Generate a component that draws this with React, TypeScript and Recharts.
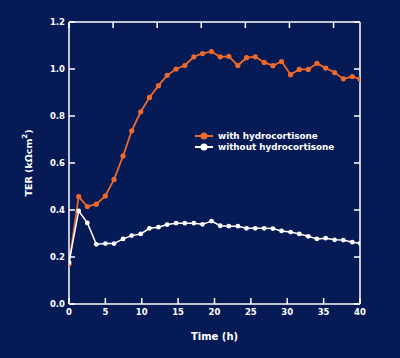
import React from 'react';
import { LineChart, Line, XAxis, YAxis, Legend } from 'recharts';

const times = [
  0, 1.33, 2.52, 3.76, 5.0, 6.19, 7.43, 8.62, 9.86, 11.06, 12.29, 13.49, 14.72, 15.92, 17.16,
  18.35, 19.59, 20.78, 21.97, 23.21, 24.4, 25.6, 26.83, 28.03, 29.22, 30.46, 31.65, 32.89,
  34.08, 35.28, 36.51, 37.71, 38.94, 40.0,
];

const withHydro = [
  0.17, 0.457, 0.415, 0.425, 0.46, 0.53, 0.63, 0.737, 0.818, 0.879, 0.929, 0.973, 1.0, 1.015,
  1.052, 1.066, 1.074, 1.052, 1.054, 1.015, 1.048, 1.052, 1.028, 1.014, 1.032, 0.976, 0.998,
  0.998, 1.024, 1.004, 0.985, 0.958, 0.968, 0.957,
];

const withoutHydro = [
  0.177, 0.396, 0.345, 0.254, 0.257, 0.257, 0.277, 0.291, 0.298, 0.322, 0.327, 0.338, 0.344,
  0.344, 0.344, 0.339, 0.353, 0.333, 0.331, 0.331, 0.322, 0.322, 0.322, 0.321, 0.311, 0.306,
  0.298, 0.288, 0.277, 0.28, 0.273, 0.272, 0.263, 0.258,
];

const xTicks = [0, 5, 10, 15, 20, 25, 30, 35, 40];
const yTicks = [0, 0.2, 0.4, 0.6, 0.8, 1.0, 1.2];

const BG = '#061a55';
const ORANGE = '#ee6a2c';
const WHITE = '#ffffff';
const FONT = '"DejaVu Sans", sans-serif';

const data = times.map((t, i) => ({ t, withH: withHydro[i], withoutH: withoutHydro[i] }));

const tickStyle = { fill: WHITE, fontSize: 8.5, fontWeight: 700, fontFamily: FONT };

function YLabel({ viewBox }: any) {
  const x = 29;
  const y = viewBox.y + viewBox.height / 2;
  return (
    <text
      x={x}
      y={y}
      transform={`rotate(-90, ${x}, ${y})`}
      textAnchor="middle"
      dominantBaseline="middle"
      fill={WHITE}
      fontSize={9.5}
      fontWeight={700}
      fontFamily={FONT}
    >
      TER (kΩcm<tspan dy={-4} fontSize={7}>2</tspan>
      <tspan dy={4}>)</tspan>
    </text>
  );
}

function LegendBox() {
  const items = [
    { label: 'with hydrocortisone', color: ORANGE, r: 3.5 },
    { label: 'without hydrocortisone', color: WHITE, r: 3.5 },
  ];
  return (
    <div style={{ fontFamily: FONT, fontWeight: 700, fontSize: 8.8, color: WHITE }}>
      {items.map((it) => (
        <div key={it.label} style={{ display: 'flex', alignItems: 'center', height: 11.5 }}>
          <svg width={18} height={10} style={{ marginRight: 5 }}>
            <line x1={0} y1={5} x2={18} y2={5} stroke={it.color} strokeWidth={2} />
            <circle cx={9} cy={5} r={it.r} fill={it.color} />
          </svg>
          <span style={{ whiteSpace: 'nowrap' }}>{it.label}</span>
        </div>
      ))}
    </div>
  );
}

export default function App() {
  return (
    <div style={{ position: 'absolute', left: 0, top: 0, width: 400, height: 358, background: BG }}>
      <LineChart
        width={400}
        height={358}
        data={data}
        margin={{ top: 21, right: 39, bottom: 18, left: 0 }}
      >
        <XAxis
          dataKey="t"
          type="number"
          domain={[0, 40]}
          ticks={xTicks}
          allowDataOverflow
          stroke={WHITE}
          axisLine={{ stroke: WHITE, strokeWidth: 1.5 }}
          tickLine={{ stroke: WHITE, strokeWidth: 1.5 }}
          tickSize={-6}
          tickMargin={11}
          tick={tickStyle}
          height={36}
          label={{
            value: 'Time (h)',
            position: 'insideBottom',
            offset: 0,
            fill: WHITE,
            fontSize: 10,
            fontWeight: 700,
            fontFamily: FONT,
          }}
        />
        <XAxis
          xAxisId="top"
          orientation="top"
          type="number"
          domain={[0, 40]}
          ticks={xTicks}
          allowDataOverflow
          axisLine={{ stroke: WHITE, strokeWidth: 1.5 }}
          tickLine={{ stroke: WHITE, strokeWidth: 1.5 }}
          tickSize={-6}
          tick={() => <g />}
          height={1}
        />
        <YAxis
          type="number"
          domain={[0, 1.2]}
          ticks={yTicks}
          allowDataOverflow
          axisLine={{ stroke: WHITE, strokeWidth: 1.5 }}
          tickLine={{ stroke: WHITE, strokeWidth: 1.5 }}
          tickSize={-6}
          tickMargin={10}
          tick={tickStyle}
          tickFormatter={(v: number) => v.toFixed(1)}
          width={69}
          label={<YLabel />}
        />
        <YAxis
          yAxisId="right"
          orientation="right"
          type="number"
          domain={[0, 1.2]}
          ticks={yTicks}
          allowDataOverflow
          axisLine={{ stroke: WHITE, strokeWidth: 1.5 }}
          tickLine={{ stroke: WHITE, strokeWidth: 1.5 }}
          tickSize={-6}
          tick={() => <g />}
          width={1}
        />
        <Legend
          layout="vertical"
          align="center"
          verticalAlign="middle"
          content={() => <LegendBox />}
          wrapperStyle={{ position: 'absolute', left: 195, top: 130, width: 160 }}
        />
        <Line
          dataKey="withH"
          stroke={ORANGE}
          strokeWidth={1.8}
          dot={{ r: 2.6, fill: ORANGE, stroke: 'none' }}
          isAnimationActive={false}
        />
        <Line
          dataKey="withoutH"
          stroke={WHITE}
          strokeWidth={1.5}
          dot={{ r: 2.4, fill: WHITE, stroke: 'none' }}
          isAnimationActive={false}
        />
      </LineChart>
    </div>
  );
}
